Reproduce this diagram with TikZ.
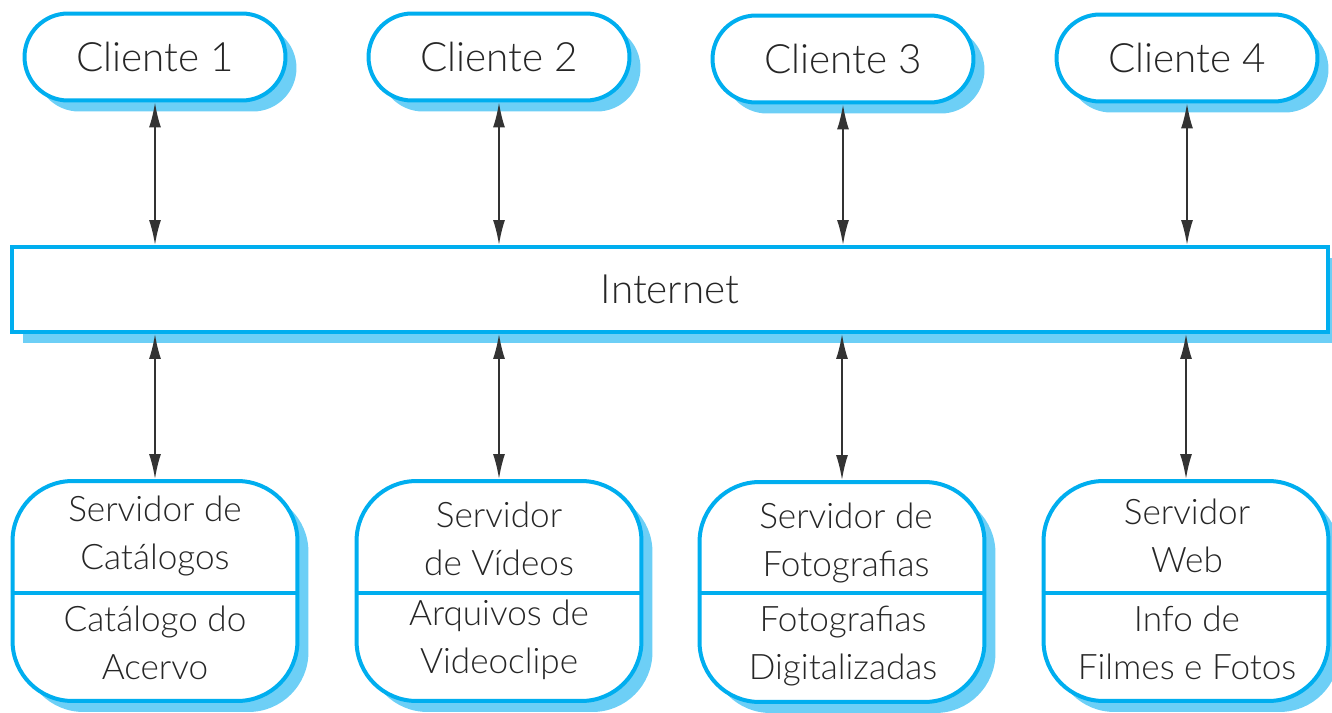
\documentclass[tikz,border=0pt]{standalone}
\usepackage{fontspec}
\setmainfont{Lato}[UprightFont=* Light]
\usetikzlibrary{arrows.meta,shadows}
\definecolor{netblue}{HTML}{00AEEF}
\definecolor{shadeblue}{HTML}{6DCFF6}

\begin{document}
\begin{tikzpicture}[x=0.02cm,y=-0.02cm,
	box/.style={draw=netblue,line width=0.08cm,fill=white,
		drop shadow={shadow xshift=0.22cm,shadow yshift=-0.22cm,fill=shadeblue,opacity=1}},
	client/.style={box,rounded corners=0.87cm,minimum width=5.22cm,minimum height=1.74cm,
		font=\fontsize{23}{28}\selectfont},
	server/.style={box,rounded corners=1.2cm,minimum width=5.7cm,minimum height=4.4cm},
	srvtext/.style={align=center,text=black!85,font=\fontsize{20}{27}\selectfont},
	divider/.style={draw=netblue,line width=0.08cm},
	link/.style={{Latex[length=0.5cm,width=0.24cm]}-{Latex[length=0.5cm,width=0.24cm]},
		line width=0.035cm,black!80}]
			%%%%% START %%%%%
			\def\ycl{57}
			\def\ynet{289.5}
			\def\ysv{591}
			\def\yup{536}
			\def\ylo{643}
			\def\ydiv{593}
			\def\xa{155}
			\def\xb{499}
			\def\xc{843}
			\def\xd{1187}

			\useasboundingbox (0,0) rectangle (1332,713);

			\node[client,text=black!85] (cl1) at (\xa,\ycl) {Cliente 1};
			\node[client,text=black!85] (cl2) at (\xb,\ycl) {Cliente 2};
			\node[client,text=black!85] (cl3) at (\xc,\ycl+2) {Cliente 3};
			\node[client,text=black!85] (cl4) at (\xd,\ycl+1) {Cliente 4};

			\node[box,minimum width=26.32cm,minimum height=1.7cm,text=black!85,
				font=\fontsize{23}{28}\selectfont] (net) at (670,\ynet) {Internet};

			\node[server] (sv1) at (\xa,\ysv) {};
			\node[server] (sv2) at (\xb,\ysv) {};
			\node[server] (sv3) at (\xc-1,\ysv+1) {};
			\node[server] (sv4) at (\xd-1,\ysv) {};

			\coordinate (d1) at (\xa,\ydiv);
			\coordinate (d2) at (\xb,\ydiv);
			\coordinate (d3) at (\xc,\ydiv);
			\coordinate (d4) at (\xd,\ydiv);
			\draw[divider] (sv1.west |- d1) -- (sv1.east |- d1);
			\draw[divider] (sv2.west |- d2) -- (sv2.east |- d2);
			\draw[divider] (sv3.west |- d3) -- (sv3.east |- d3);
			\draw[divider] (sv4.west |- d4) -- (sv4.east |- d4);

			\node[srvtext] (sv1a) at (\xa,\yup) {Servidor de\\Catálogos};
			\node[srvtext] (sv1b) at (\xa,\ylo) {Catálogo do\\Acervo};
			\node[srvtext] (sv2a) at (\xb,\yup+3) {Servidor\\de Vídeos};
			\node[srvtext] (sv2b) at (\xb,\ylo-3) {Arquivos de\\Videoclipe};
			\node[srvtext] (sv3a) at (\xc+3,\yup+7) {Servidor de\\Fotografias};
			\node[srvtext] (sv3b) at (\xc,\ylo+3) {Fotografias\\Digitalizadas};
			\node[srvtext] (sv4a) at (\xd,\yup) {Servidor\\Web};
			\node[srvtext] (sv4b) at (\xd,\ylo) {Info de\\Filmes e Fotos};

			\draw[link] (cl1.south) -- (cl1.south |- net.north);
			\draw[link] (cl2.south) -- (cl2.south |- net.north);
			\draw[link] (cl3.south) -- (cl3.south |- net.north);
			\draw[link] (cl4.south) -- (cl4.south |- net.north);

			\draw[link] (net.south -| sv1.north) -- (sv1.north);
			\draw[link] (net.south -| sv2.north) -- (sv2.north);
			\draw[link] (net.south -| sv3.north) -- (sv3.north);
			\draw[link] (net.south -| sv4.north) -- (sv4.north);
			%%%%% END %%%%%
\end{tikzpicture}
\end{document}
